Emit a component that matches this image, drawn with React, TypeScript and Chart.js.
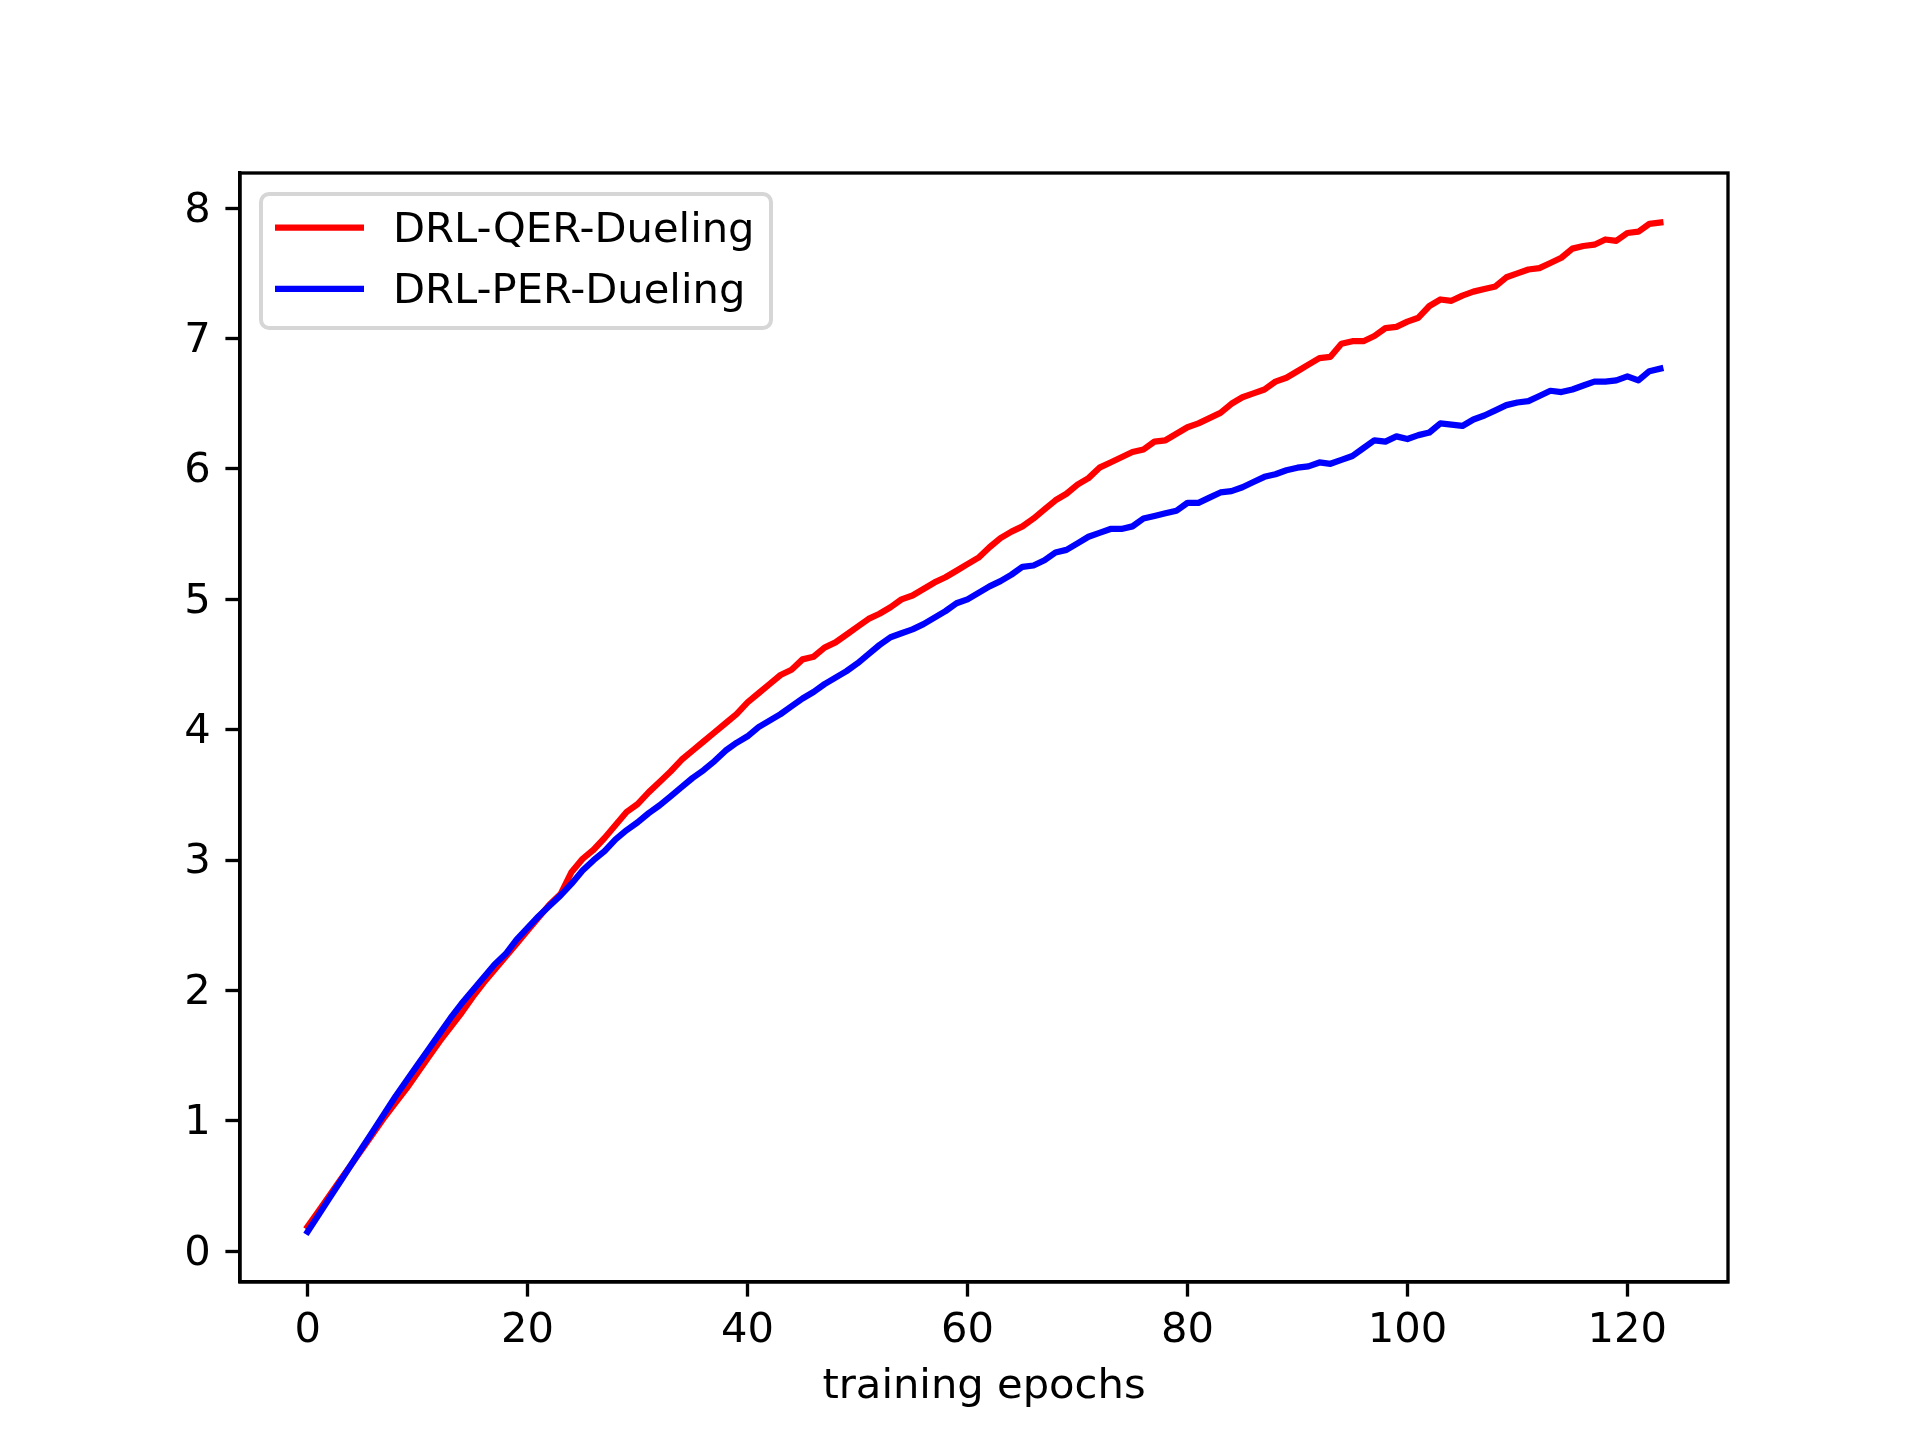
import React, { useEffect, useRef } from 'react';
import { Chart, registerables } from 'chart.js';

Chart.register(...registerables);

const qerDueling = [
  0.19, 0.31, 0.43, 0.55, 0.67, 0.79, 0.91, 1.03, 1.14, 1.25,
  1.37, 1.49, 1.61, 1.72, 1.83, 1.95, 2.06, 2.16, 2.26, 2.36,
  2.46, 2.56, 2.66, 2.74, 2.91, 3.01, 3.08, 3.17, 3.27, 3.37,
  3.43, 3.52, 3.60, 3.68, 3.77, 3.84, 3.91, 3.98, 4.05, 4.12,
  4.21, 4.28, 4.35, 4.42, 4.46, 4.54, 4.56, 4.63, 4.67, 4.73,
  4.79, 4.85, 4.89, 4.94, 5.00, 5.03, 5.08, 5.13, 5.17, 5.22,
  5.27, 5.32, 5.40, 5.47, 5.52, 5.56, 5.62, 5.69, 5.76, 5.81,
  5.88, 5.93, 6.01, 6.05, 6.09, 6.13, 6.15, 6.21, 6.22, 6.27,
  6.32, 6.35, 6.39, 6.43, 6.50, 6.55, 6.58, 6.61, 6.67, 6.70,
  6.75, 6.80, 6.85, 6.86, 6.96, 6.98, 6.98, 7.02, 7.08, 7.09,
  7.13, 7.16, 7.25, 7.30, 7.29, 7.33, 7.36, 7.38, 7.40, 7.47,
  7.50, 7.53, 7.54, 7.58, 7.62, 7.69, 7.71, 7.72, 7.76, 7.75,
  7.81, 7.82, 7.88, 7.89,
];

const perDueling = [
  0.15, 0.28, 0.41, 0.54, 0.67, 0.80, 0.93, 1.06, 1.19, 1.31,
  1.43, 1.55, 1.67, 1.79, 1.90, 2.00, 2.10, 2.20, 2.28, 2.39,
  2.48, 2.57, 2.65, 2.73, 2.82, 2.92, 3.00, 3.07, 3.16, 3.23,
  3.29, 3.36, 3.42, 3.49, 3.56, 3.63, 3.69, 3.76, 3.84, 3.90,
  3.95, 4.02, 4.07, 4.12, 4.18, 4.24, 4.29, 4.35, 4.40, 4.45,
  4.51, 4.58, 4.65, 4.71, 4.74, 4.77, 4.81, 4.86, 4.91, 4.97,
  5.00, 5.05, 5.10, 5.14, 5.19, 5.25, 5.26, 5.30, 5.36, 5.38,
  5.43, 5.48, 5.51, 5.54, 5.54, 5.56, 5.62, 5.64, 5.66, 5.68,
  5.74, 5.74, 5.78, 5.82, 5.83, 5.86, 5.90, 5.94, 5.96, 5.99,
  6.01, 6.02, 6.05, 6.04, 6.07, 6.10, 6.16, 6.22, 6.21, 6.25,
  6.23, 6.26, 6.28, 6.35, 6.34, 6.33, 6.38, 6.41, 6.45, 6.49,
  6.51, 6.52, 6.56, 6.60, 6.59, 6.61, 6.64, 6.67, 6.67, 6.68,
  6.71, 6.68, 6.75, 6.77,
];

const xTicks = [0, 20, 40, 60, 80, 100, 120];
const yTicks = [0, 1, 2, 3, 4, 5, 6, 7, 8];
const seriesNames = ['DRL-QER-Dueling', 'DRL-PER-Dueling'];
const seriesColors = ['#ff0000', '#0000ff'];

const FONT = 'DejaVu Sans';
const FS = 41.67; // 10pt at 300dpi
const LW = 3.33;  // 0.8pt

// frame on all four sides, drawn above the lines like matplotlib spines
const framePlugin = {
  id: 'frame',
  afterDatasetsDraw(chart: any) {
    const { ctx, chartArea: a } = chart;
    ctx.save();
    ctx.strokeStyle = '#000';
    ctx.lineWidth = LW;
    ctx.strokeRect(a.left, a.top, a.right - a.left, a.bottom - a.top);
    ctx.restore();
  },
};

// legend box in upper-left corner of the axes
const legendPlugin = {
  id: 'boxLegend',
  afterDraw(chart: any) {
    const { ctx, chartArea: a } = chart;
    const x0 = a.left + 21, y0 = a.top + 21, w = 510, h = 134, r = 8;
    ctx.save();
    ctx.beginPath();
    ctx.roundRect(x0, y0, w, h, r);
    ctx.fillStyle = 'rgba(255,255,255,0.8)';
    ctx.fill();
    ctx.lineWidth = 4;
    ctx.strokeStyle = '#d6d6d6';
    ctx.stroke();
    chart.data.datasets.forEach((ds: any, i: number) => {
      const y = y0 + 33.5 + i * 61.3;
      ctx.beginPath();
      ctx.moveTo(x0 + 14, y);
      ctx.lineTo(x0 + 103, y);
      ctx.lineWidth = 6.25;
      ctx.strokeStyle = ds.borderColor;
      ctx.stroke();
      ctx.fillStyle = '#000';
      ctx.font = `${FS}px "${FONT}"`;
      ctx.textAlign = 'left';
      ctx.textBaseline = 'alphabetic';
      ctx.fillText(ds.label, x0 + 132, y + 14.5);
    });
    ctx.restore();
  },
};

export default function App() {
  const ref = useRef<HTMLCanvasElement>(null);
  const chartRef = useRef<Chart | null>(null);

  useEffect(() => {
    if (!ref.current) return;
    const ctx = ref.current.getContext('2d'); if (!ctx) return;
    const series = [qerDueling, perDueling];

    chartRef.current?.destroy();
    chartRef.current = new Chart(ctx, {
      type: 'line',
      data: {
        datasets: series.map((vals, i) => ({
          label: seriesNames[i],
          data: vals.map((v, e) => ({ x: e, y: v })),
          borderColor: seriesColors[i],
          backgroundColor: seriesColors[i],
          borderWidth: 6.25,
          pointRadius: 0,
          tension: 0,
          fill: false,
          borderJoinStyle: 'round' as const,
          borderCapStyle: 'square' as const,
          order: 2 - i,
        })),
      },
      options: {
        responsive: false,
        devicePixelRatio: 1,
        animation: false,
        layout: { padding: { top: 173, right: 192, left: 0, bottom: 0 } },
        plugins: { legend: { display: false }, tooltip: { enabled: false } },
        scales: {
          x: {
            type: 'linear',
            min: -6.15,
            max: 129.15,
            afterBuildTicks: (s: any) => { s.ticks = xTicks.map(v => ({ value: v })); },
            afterFit: (s: any) => { s.height = 158; },
            grid: { drawOnChartArea: false, drawTicks: true, tickLength: 14.6, tickWidth: LW, tickColor: '#000' },
            border: { display: true, color: '#000', width: LW },
            ticks: { color: '#000', padding: 13.5, maxRotation: 0, autoSkip: false, font: { family: FONT, size: FS, lineHeight: 1 } },
            title: { display: true, text: 'training epochs', color: '#000', font: { family: FONT, size: FS, lineHeight: 1.2 }, padding: { top: 0, bottom: 28 } },
          },
          y: {
            type: 'linear',
            min: -0.235,
            max: 8.27,
            afterBuildTicks: (s: any) => { s.ticks = yTicks.map(v => ({ value: v })); },
            afterFit: (s: any) => { s.width = 240; },
            grid: { drawOnChartArea: false, drawTicks: true, tickLength: 14.6, tickWidth: LW, tickColor: '#000' },
            border: { display: true, color: '#000', width: LW },
            ticks: { color: '#000', padding: 14.6, labelOffset: 2.5, autoSkip: false, font: { family: FONT, size: FS, lineHeight: 1 } },
          },
        },
      },
      plugins: [framePlugin, legendPlugin],
    });

    return () => chartRef.current?.destroy();
  }, []);

  return (
    <div style={{ position: 'absolute', left: 0, top: 0, width: 1920, height: 1440, background: '#fff' }}>
      <canvas ref={ref} width={1920} height={1440} style={{ width: 1920, height: 1440 }}></canvas>
    </div>
  );
}
